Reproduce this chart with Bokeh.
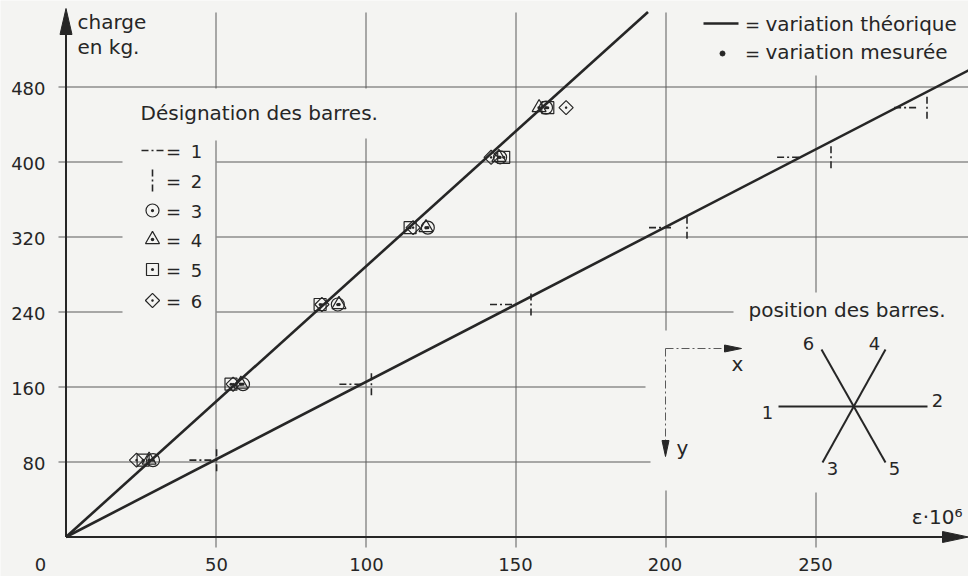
import math
from bokeh.plotting import figure
from bokeh.models import Range1d
from bokeh.core.properties import value
from bokeh.embed import file_html
from bokeh.resources import INLINE

# ---------------- data ----------------
loads = [82, 163, 248, 330, 405, 458]          # charge en kg
bar1 = [44.8, 94.8, 145.0, 198.0, 240.7, 279.7]  # barre 1 (epsilon*1e6)
bar2 = [50.2, 101.8, 155.0, 207.0, 255.0, 287.0]  # barre 2
bar3 = [29.0, 59.0, 90.6, 120.6, 144.7, 160.0]    # barre 3 (cercle)
bar4 = [27.7, 58.3, 91.0, 120.0, 144.3, 157.7]    # barre 4 (triangle)
bar5 = [25.7, 55.0, 84.7, 114.7, 145.9, 160.6]    # barre 5 (carre)
bar6 = [23.5, 55.7, 85.3, 115.7, 141.7, 166.7]    # barre 6 (losange)

theo_steep_x = [0, 194]
theo_steep_y = [0, 560]
theo_shallow_x = [0, 301]
theo_shallow_y = [0, 498]

x_ticks = [0, 50, 100, 150, 200, 250]
x_tick_labels = ["0", "50", "100", "150", "200", "250"]
y_ticks = [80, 160, 240, 320, 400, 480]
y_tick_labels = ["80", "160", "240", "320", "400", "480"]

# ---------------- layout helpers (page pixel -> data) ----------------
X0, SX = 65.5, 3.0
Y0, SY = 536.5, 0.9375


def X(px):
    return (px - X0) / SX


def Y(py):
    return (Y0 - py) / SY


INK = "#262626"
GRID = "#5a5a5a"
BG = "#f4f4f2"
FONT = value("DejaVu Sans")
FS = "18px"      # digits
FW = "20px"      # words

p = figure(width=968, height=576,
           x_range=Range1d(X(0), X(968)), y_range=Range1d(Y(576), Y(0)),
           output_backend="svg", toolbar_location=None,
           x_axis_type=None, y_axis_type=None, min_border=0,
           background_fill_color=BG, border_fill_color=BG,
           outline_line_color=None, title=None)
p.grid.visible = False

# ---------------- grid (with gaps like the drawing) ----------------
h_extent = {80: [(58, 650)], 160: [(58, 645)],
            240: [(58, 122), (216, 733)], 320: [(58, 122), (216, 968)],
            400: [(58, 122), (216, 968)], 480: [(58, 968)]}
v_extent = {50: [(12, 88), (140, 547)], 100: [(12, 88), (138, 547)],
            150: [(12, 547)], 200: [(12, 330), (490, 547)],
            250: [(75, 292), (492, 547)]}
gx0, gy0, gx1, gy1 = [], [], [], []
for t in y_ticks:
    for a, b in h_extent[t]:
        gx0.append(X(a)); gx1.append(X(b)); gy0.append(t); gy1.append(t)
for t in x_ticks[1:]:
    for a, b in v_extent[t]:
        gx0.append(t); gx1.append(t); gy0.append(Y(b)); gy1.append(Y(a))
p.segment(gx0, gy0, gx1, gy1, line_color=GRID, line_width=1)

# ---------------- axes with arrows ----------------
p.segment([0, 0], [0, 0], [0, X(945)], [Y(30), 0], line_color=INK, line_width=2)
p.patch([X(59.5), X(71.5), X(65.5)], [Y(34), Y(34), Y(8)], color=INK)
p.patch([X(942), X(942), X(968)], [Y(531), Y(542), Y(536.5)], color=INK)

# ---------------- theoretical lines ----------------
p.line(theo_steep_x, theo_steep_y, line_color=INK, line_width=2.6)
p.line(theo_shallow_x, theo_shallow_y, line_color=INK, line_width=2.6)

# ---------------- measured values ----------------
hx = 11 / SX
hy = 11 / SY
p.segment([b - hx for b in bar1], loads, [b + hx for b in bar1], loads,
          line_color=INK, line_width=1.6, line_dash="7 3 2 3")
p.segment(bar2, [l - hy for l in loads], bar2, [l + hy for l in loads],
          line_color=INK, line_width=1.6, line_dash="7 3 2 3")
mk = dict(fill_color=None, line_color=INK, line_width=1.2)
p.scatter(bar3, loads, marker="circle_dot", size=13, **mk)
p.scatter(bar4, loads, marker="triangle_dot", size=14, **mk)
p.scatter(bar5, loads, marker="square_dot", size=12, **mk)
p.scatter(bar6, loads, marker="square_dot", size=10, angle=math.pi / 4, **mk)

# ---------------- tick labels ----------------
p.text([X(45)] * len(y_ticks), [Y(Y0 - t * SY + 1) for t in y_ticks], text=y_tick_labels,
       text_font=FONT, text_font_size=FS, text_color=INK,
       text_align="right", text_baseline="middle")
xl_px = [40, 216, 366, 515, 664.5, 815]
p.text([X(v) for v in xl_px], [Y(564)] * len(xl_px), text=x_tick_labels,
       text_font=FONT, text_font_size=FS, text_color=INK,
       text_align="center", text_baseline="middle")

# ---------------- axis titles ----------------
p.text([X(77), X(77), X(140)], [Y(21), Y(46), Y(112)],
       text=["charge", "en kg.", "Désignation des barres."],
       text_font=FONT, text_font_size=FW, text_color=INK,
       text_align="left", text_baseline="alphabetic")
p.text([X(962)], [Y(516)], text=["ε·10⁶"],
       text_font=FONT, text_font_size=FW, text_color=INK,
       text_align="right", text_baseline="alphabetic")

# ---------------- legend (bars) ----------------
rows = [150, 180, 210, 239, 269, 300]
lx = X(152)
p.segment([X(141)], [Y(rows[0])], [X(164)], [Y(rows[0])],
          line_color=INK, line_width=1.6, line_dash="7 3 2 3")
p.segment([lx], [Y(rows[1] - 11)], [lx], [Y(rows[1] + 11)],
          line_color=INK, line_width=1.6, line_dash="7 3 2 3")
p.scatter([lx], [Y(rows[2])], marker="circle_dot", size=13, **mk)
p.scatter([lx], [Y(rows[3])], marker="triangle_dot", size=14, **mk)
p.scatter([lx], [Y(rows[4])], marker="square_dot", size=12, **mk)
p.scatter([lx], [Y(rows[5])], marker="square_dot", size=10, angle=math.pi / 4, **mk)
p.text([X(173)] * 6, [Y(r + 1) for r in rows], text=["="] * 6,
       text_font=FONT, text_font_size=FS, text_color=INK,
       text_align="center", text_baseline="middle")
p.text([X(196)] * 6, [Y(r + 1) for r in rows], text=["1", "2", "3", "4", "5", "6"],
       text_font=FONT, text_font_size=FS, text_color=INK,
       text_align="center", text_baseline="middle")

# ---------------- legend (top right) ----------------
p.segment([X(703)], [Y(23)], [X(738)], [Y(23)], line_color=INK, line_width=2.6)
p.scatter([X(722)], [Y(53)], marker="circle", size=5, color=INK)
p.text([X(752), X(752)], [Y(23.5), Y(52.5)], text=["=", "="],
       text_font=FONT, text_font_size=FS, text_color=INK,
       text_align="center", text_baseline="middle")
p.text([X(765), X(765)], [Y(23), Y(51)],
       text=["variation théorique", "variation mesurée"],
       text_font=FONT, text_font_size=FW, text_color=INK,
       text_align="left", text_baseline="alphabetic")

# ---------------- bar position diagram ----------------
p.text([X(748)], [Y(309)], text=["position des barres."],
       text_font=FONT, text_font_size=FW, text_color=INK,
       text_align="left", text_baseline="alphabetic")
p.segment([X(665), X(665)], [Y(348), Y(348)], [X(728), X(665)], [Y(348), Y(445)],
          line_color=GRID, line_width=1, line_dash="8 3 2 3")
p.patch([X(724), X(724), X(741)], [Y(344.5), Y(351.5), Y(348)], color=INK)
p.patch([X(661.5), X(668.5), X(665)], [Y(440), Y(440), Y(456)], color=INK)
p.text([X(737), X(682)], [Y(363), Y(447)], text=["x", "y"],
       text_font=FONT, text_font_size=FW, text_color=INK,
       text_align="center", text_baseline="middle")
p.segment([X(778), X(821), X(885)], [Y(406), Y(349), Y(349)],
          [X(927), X(885), X(822)], [Y(406), Y(462), Y(462)],
          line_color=INK, line_width=2)
p.text([X(767), X(937), X(808), X(874), X(832), X(894)],
       [Y(412), Y(400), Y(343), Y(343), Y(468), Y(468)],
       text=["1", "2", "6", "4", "3", "5"],
       text_font=FONT, text_font_size=FS, text_color=INK,
       text_align="center", text_baseline="middle")

open("out.html", "w").write(file_html(p, INLINE))
